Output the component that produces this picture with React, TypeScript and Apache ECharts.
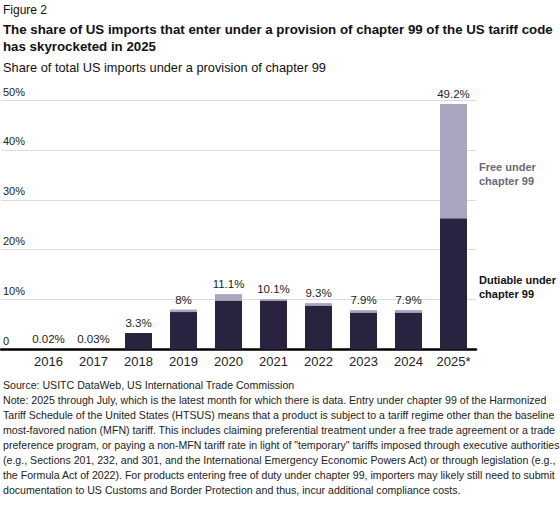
import React, { useEffect, useRef } from "react";
import * as echarts from "echarts";

const years = ["2016", "2017", "2018", "2019", "2020", "2021", "2022", "2023", "2024", "2025*"];
const dutiable = [0.02, 0.03, 3.3, 7.5, 9.8, 9.8, 8.8, 7.4, 7.4, 26.3];
const freeUnder = [0, 0, 0, 0.5, 1.3, 0.3, 0.5, 0.5, 0.5, 22.9];
const totalLabels = ["0.02%", "0.03%", "3.3%", "8%", "11.1%", "10.1%", "9.3%", "7.9%", "7.9%", "49.2%"];
const yTicks = [0, 10, 20, 30, 40, 50];

const figureLabel = "Figure 2";
const titleLines = [
  "The share of US imports that enter under a provision of chapter 99 of the US tariff code",
  "has skyrocketed in 2025",
];
const subtitle = "Share of total US imports under a provision of chapter 99";
const footerLines = [
  "Source: USITC DataWeb, US International Trade Commission",
  "Note: 2025 through July, which is the latest month for which there is data. Entry under chapter 99 of the Harmonized",
  "Tariff Schedule of the United States (HTSUS) means that a product is subject to a tariff regime other than the baseline",
  "most-favored nation (MFN) tariff. This includes claiming preferential treatment under a free trade agreement or a trade",
  "preference program, or paying a non-MFN tariff rate in light of \"temporary\" tariffs imposed through executive authorities",
  "(e.g., Sections 201, 232, and 301, and the International Emergency Economic Powers Act) or through legislation (e.g.,",
  "the Formula Act of 2022). For products entering free of duty under chapter 99, importers may likely still need to submit",
  "documentation to US Customs and Border Protection and thus, incur additional compliance costs.",
];
const legendFree = ["Free under", "chapter 99"];
const legendDutiable = ["Dutiable under", "chapter 99"];

const DARK = "#29233f";
const LIGHT = "#a9a6bf";
const FONT = '"Liberation Sans", Arial, sans-serif';

export default function App() {
  const ref = useRef<HTMLDivElement>(null);

  useEffect(() => {
    document.body.style.margin = "0";
    if (!ref.current) return;
    const chart = echarts.init(ref.current, undefined, { renderer: "svg" });

    const graphics: any[] = [];
    graphics.push({
      type: "text",
      style: { text: figureLabel, x: 3, y: 10, font: `12px ${FONT}`, fill: "#111", textVerticalAlign: "middle" },
    });
    titleLines.forEach((t, i) =>
      graphics.push({
        type: "text",
        style: { text: t, x: 3, y: 29.5 + i * 17, font: `bold 13.3px ${FONT}`, fill: "#111", textVerticalAlign: "middle" },
      })
    );
    graphics.push({
      type: "text",
      style: { text: subtitle, x: 3, y: 67, font: `12.8px ${FONT}`, fill: "#111", textVerticalAlign: "middle" },
    });
    footerLines.forEach((t, i) =>
      graphics.push({
        type: "text",
        style: { text: t, x: 3, y: 385 + i * 15, font: `10.6px ${FONT}`, fill: "#222", textVerticalAlign: "middle" },
      })
    );
    legendFree.forEach((t, i) =>
      graphics.push({
        type: "text",
        style: { text: t, x: 479, y: 167 + i * 13.5, font: `bold 11px ${FONT}`, fill: "#6a6878", textVerticalAlign: "middle" },
      })
    );
    legendDutiable.forEach((t, i) =>
      graphics.push({
        type: "text",
        style: { text: t, x: 479, y: 280 + i * 13.5, font: `bold 11px ${FONT}`, fill: "#111", textVerticalAlign: "middle" },
      })
    );

    chart.setOption({
      animation: false,
      textStyle: { fontFamily: FONT },
      grid: [
        { left: 0, right: 84, top: 100, bottom: 174.5 },
        { left: 26, right: 84, top: 100, bottom: 174.5 },
      ],
      xAxis: [
        {
          gridIndex: 0,
          type: "value",
          min: 0,
          max: 1,
          axisLine: { show: true, onZero: false, lineStyle: { color: "#000", width: 2.5 } },
          axisTick: { show: false },
          axisLabel: { show: false },
          splitLine: { show: false },
        },
        {
          gridIndex: 1,
          type: "category",
          data: years,
          axisLine: { show: false },
          axisTick: { show: false },
          axisLabel: { color: "#222", fontSize: 13, margin: 5, fontFamily: FONT },
        },
      ],
      yAxis: [
        {
          gridIndex: 0,
          type: "value",
          min: 0,
          max: 50,
          interval: 10,
          axisLine: { show: false },
          axisTick: { show: false },
          splitLine: { lineStyle: { color: "#dcdcdc", width: 1 } },
          axisLabel: {
            inside: true,
            margin: 2,
            color: "#222",
            fontSize: 11,
            fontFamily: FONT,
            verticalAlign: "bottom",
            padding: [0, 0, 3, 0],
            formatter: (v: number) => (yTicks.indexOf(v) >= 0 ? (v === 0 ? "0" : v + "%") : ""),
          },
        },
        {
          gridIndex: 1,
          type: "value",
          min: 0,
          max: 50,
          show: false,
          splitLine: { show: false },
        },
      ],
      graphic: graphics,
      series: [
        {
          name: "Dutiable under chapter 99",
          type: "bar",
          xAxisIndex: 1,
          yAxisIndex: 1,
          stack: "total",
          barWidth: 27,
          data: dutiable,
          itemStyle: { color: DARK },
        },
        {
          name: "Free under chapter 99",
          type: "bar",
          xAxisIndex: 1,
          yAxisIndex: 1,
          stack: "total",
          barWidth: 27,
          data: freeUnder,
          itemStyle: { color: LIGHT },
          label: {
            show: true,
            position: "top",
            distance: 4,
            color: "#222",
            fontSize: 11.5,
            fontFamily: FONT,
            formatter: (p: any) => totalLabels[p.dataIndex],
          },
        },
      ],
    });

    return () => chart.dispose();
  }, []);

  return <div ref={ref} style={{ width: 560, height: 524 }} />;
}
